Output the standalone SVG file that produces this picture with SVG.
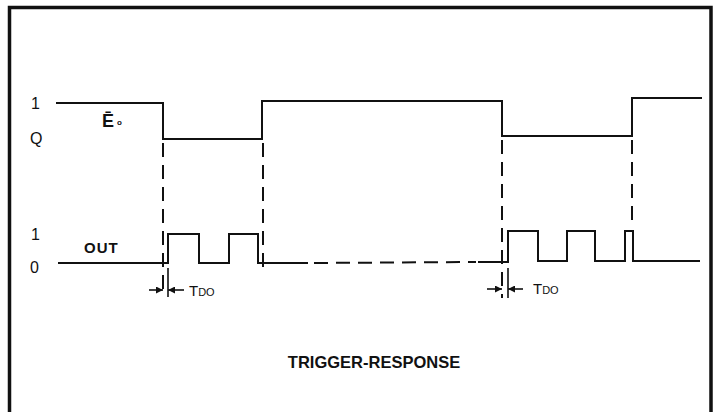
<svg xmlns="http://www.w3.org/2000/svg" width="715" height="412" viewBox="0 0 715 412">
<style>
.wave{fill:none;stroke:#111;stroke-width:2;stroke-linejoin:miter}
.dash{fill:none;stroke:#111;stroke-width:2;stroke-dasharray:14 8}
.tick{fill:none;stroke:#111;stroke-width:1.6}
.lbl{font-family:"Liberation Sans",Arial,sans-serif;fill:#111}
.title{font-family:"Liberation Sans",Arial,sans-serif;fill:#111;font-size:16.5px;font-weight:bold}
</style>
<defs>
<marker id="ah" viewBox="0 0 10 10" refX="10" refY="5" markerWidth="9" markerHeight="7" markerUnits="userSpaceOnUse" orient="auto">
<path d="M0,0 L10,5 L0,10 z" fill="#111"/>
</marker>
</defs>
<rect width="715" height="412" fill="#fff"/>
<path d="M9.5 412 V7.5 H711 V412" fill="none" stroke="#111" stroke-width="3.5"/>

<g id="axis-labels">
<text class="lbl" x="31" y="109" font-size="16">1</text>
<text class="lbl" x="30" y="144" font-size="16">Q</text>
<text class="lbl" x="31" y="240" font-size="16">1</text>
<text class="lbl" x="30" y="273" font-size="16">0</text>
</g>

<g id="signal-E0">
<polyline class="wave" points="56,103 163,103 163,139 262,139 262,101 502,101 502,136 632,136 632,98 702,98"/>
<text class="lbl" x="102" y="127" font-weight="bold" font-size="18">Ē<tspan font-size="8" dx="3" dy="-2">o</tspan></text>
</g>

<g id="signal-OUT">
<polyline class="wave" points="58,263 168,263 168,234 199,234 199,263 229,263 229,234 258,234 258,263 308,263"/>
<line class="dash" x1="314" y1="263" x2="476" y2="262" stroke-dasharray="16 7"/>
<polyline class="wave" points="478,262 508,262 508,231 538,231 538,261 567,261 567,231 595,231 595,261 625,261 625,231 633,231 633,261 700,261"/>
<text class="lbl" x="84" y="253" font-weight="bold" font-size="15" letter-spacing="1">OUT</text>
</g>

<g id="connectors">
<line class="dash" x1="163" y1="143" x2="163" y2="292"/>
<line class="dash" x1="263" y1="143" x2="263" y2="272"/>
<line class="dash" x1="502" y1="140" x2="502" y2="298"/>
<line class="dash" x1="632" y1="140" x2="632" y2="227"/>
<line class="tick" x1="168" y1="268" x2="168" y2="297"/>
<line class="tick" x1="508" y1="268" x2="508" y2="298"/>
<line class="tick" x1="149" y1="290" x2="163" y2="290" marker-end="url(#ah)"/>
<line class="tick" x1="184" y1="290" x2="168" y2="290" marker-end="url(#ah)"/>
<line class="tick" x1="487" y1="289" x2="502" y2="289" marker-end="url(#ah)"/>
<line class="tick" x1="523" y1="289" x2="508" y2="289" marker-end="url(#ah)"/>
</g>

<g id="tdo-labels">
<text class="lbl" x="189" y="296" font-size="15">T<tspan font-size="11">DO</tspan></text>
<text class="lbl" x="533" y="294" font-size="15">T<tspan font-size="11">DO</tspan></text>
</g>

<g id="title">
<text class="title" x="374" y="368" text-anchor="middle">TRIGGER-RESPONSE</text>
</g>
</svg>
